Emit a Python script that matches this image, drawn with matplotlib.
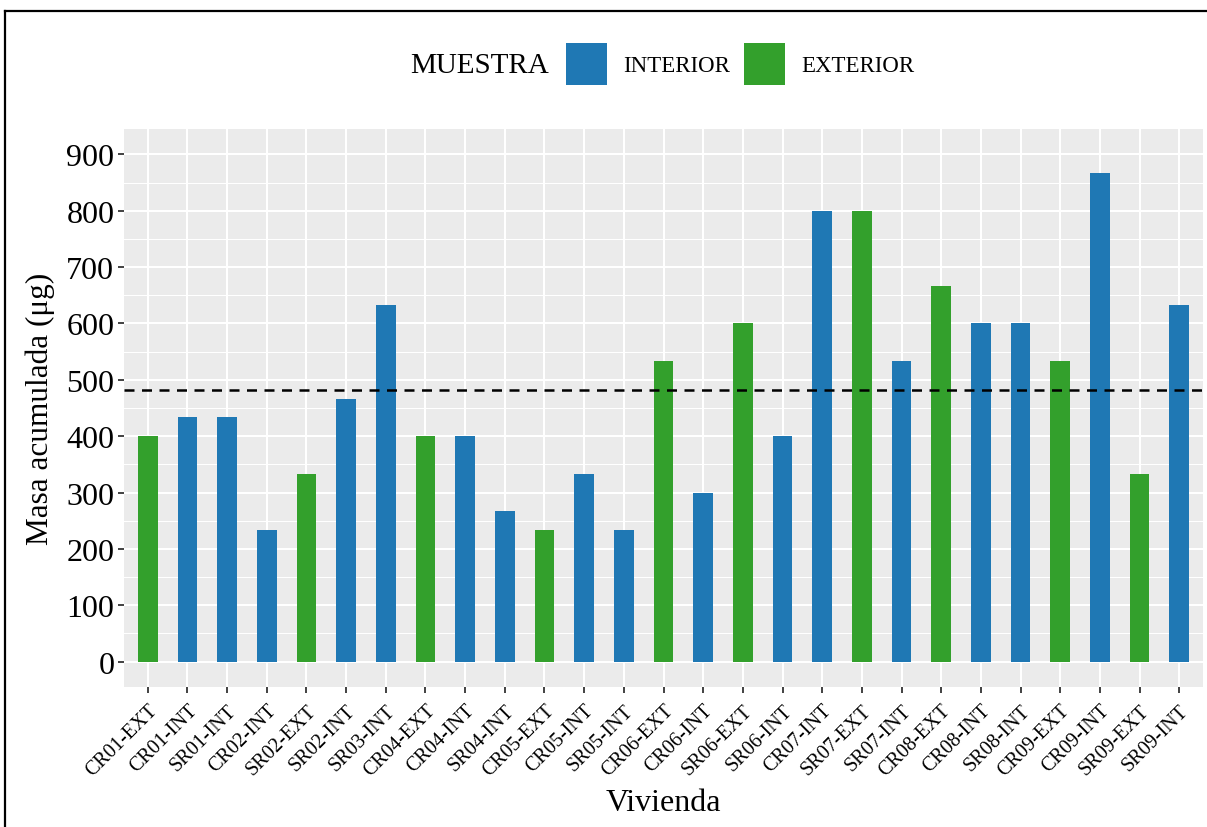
import numpy as np
import matplotlib.pyplot as plt
from matplotlib.patches import Patch
from matplotlib.lines import Line2D
from matplotlib.ticker import MultipleLocator

plt.rcParams['font.family'] = ['Liberation Serif', 'DejaVu Serif']

# Data
viviendas = ['CR01-EXT', 'CR01-INT', 'SR01-INT', 'CR02-INT', 'SR02-EXT', 'SR02-INT',
             'SR03-INT', 'CR04-EXT', 'CR04-INT', 'SR04-INT', 'CR05-EXT', 'CR05-INT',
             'SR05-INT', 'CR06-EXT', 'CR06-INT', 'SR06-EXT', 'SR06-INT', 'CR07-INT',
             'SR07-EXT', 'SR07-INT', 'CR08-EXT', 'CR08-INT', 'SR08-INT', 'CR09-EXT',
             'CR09-INT', 'SR09-EXT', 'SR09-INT']
masa = [400, 433.3, 433.3, 233.3, 333.3, 466.7,
        633.3, 400, 400, 266.7, 233.3, 333.3,
        233.3, 533.3, 300, 600, 400, 800,
        800, 533.3, 666.7, 600, 600, 533.3,
        866.7, 333.3, 633.3]
muestra = ['EXTERIOR' if v.endswith('EXT') else 'INTERIOR' for v in viviendas]

colores = {'INTERIOR': '#1f78b4', 'EXTERIOR': '#33a02c'}
media = np.mean(masa)

fig = plt.figure(figsize=(12.07, 8.28), dpi=100)
ax = fig.add_axes([124/1207, 1 - 688/828, (1203-124)/1207, (688-130)/828])

ax.set_facecolor('#ebebeb')
x = np.arange(len(viviendas))
ax.bar(x, masa, width=0.5, color=[colores[m] for m in muestra], zorder=3)
ax.axhline(media, color='black', linestyle=(0, (4, 3)), linewidth=1.8, zorder=4)

ax.set_xlim(-0.6, len(viviendas) - 0.4)
ax.set_ylim(-45, 945)
ax.yaxis.set_major_locator(MultipleLocator(100))
ax.yaxis.set_minor_locator(MultipleLocator(50))
ax.set_xticks(x)
ax.set_xticklabels(viviendas, rotation=45, ha='right', va='top',
                   rotation_mode='anchor', fontsize=14.5)

ax.grid(which='major', color='white', linewidth=1.5, zorder=0)
ax.grid(which='minor', axis='y', color='white', linewidth=0.75, zorder=0)
ax.set_axisbelow(True)
for s in ax.spines.values():
    s.set_visible(False)

ax.tick_params(axis='both', which='major', length=4, width=1.3, color='#333333',
               labelcolor='black')
ax.tick_params(axis='y', labelsize=23, pad=3)
ax.tick_params(axis='x', pad=6)
ax.tick_params(which='minor', length=0)

ax.set_ylabel('Masa acumulada (μg)', fontsize=22.5, labelpad=8)
ax.set_xlabel('Vivienda', fontsize=23, labelpad=6)

# Legend on top with title to the left
fig.text(410/1207, 1 - 66/828, 'MUESTRA', fontsize=21, va='center', ha='left')
handles = [Patch(facecolor=colores['INTERIOR'], label='INTERIOR'),
           Patch(facecolor=colores['EXTERIOR'], label='EXTERIOR')]
fig.legend(handles=handles, ncol=2, loc='center left',
           bbox_to_anchor=(545/1207, 1 - 65/828), frameon=False, fontsize=16.5,
           handlelength=1.8, handleheight=2.4, handletextpad=0.7, columnspacing=0.6)

# Figure frame (top and left edges visible in the reference)
fig.add_artist(Line2D([5/1207, 1], [1 - 12/828, 1 - 12/828], transform=fig.transFigure,
                      color='black', linewidth=1.6))
fig.add_artist(Line2D([5/1207, 5/1207], [0, 1 - 12/828], transform=fig.transFigure,
                      color='black', linewidth=1.6))

fig.savefig('out.png', dpi=100)
